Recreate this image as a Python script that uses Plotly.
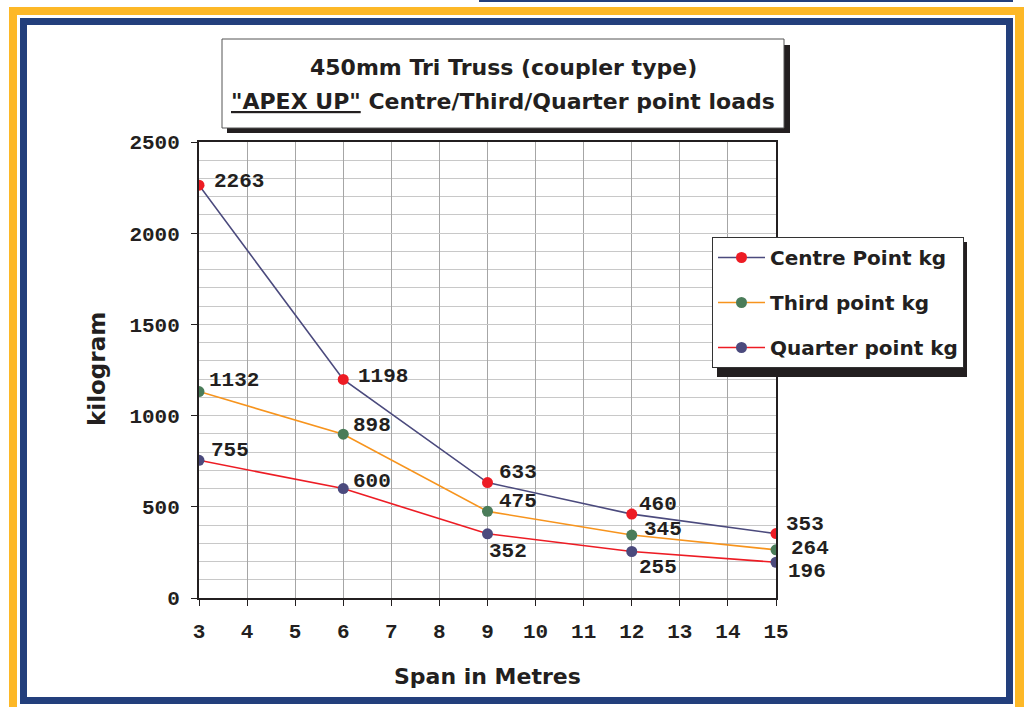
import plotly.graph_objects as go

# ---------------- data ----------------
span_m = [3, 6, 9, 12, 15]
centre_kg = [2263, 1198, 633, 460, 353]
third_kg = [1132, 898, 475, 345, 264]
quarter_kg = [755, 600, 352, 255, 196]
series_names = ["Centre Point kg", "Third point kg", "Quarter point kg"]
x_ticks = list(range(3, 16))
y_ticks = [0, 500, 1000, 1500, 2000, 2500]

# ---------------- styling ----------------
OFF = 0  # page body margin removed via post_script
W, H = 1024 - OFF, 707 - OFF
ML, MT = 199 - OFF, 142 - OFF
PW, PH = 577, 456
MR, MB = W - ML - PW, H - MT - PH

def px(x):
    return (x - OFF - ML) / PW

def py(y):
    return (MT + PH - (y - OFF)) / PH

NAVY_LINE = "#4B4A7D"
RED = "#ED1C24"
ORANGE = "#F7941D"
GREEN = "#4A7C59"
FRAME_NAVY = "#233F7C"
FRAME_YELLOW = "#FDB827"
TXT = "#231F20"
NUM_FONT = "Liberation Mono"
SANS = "DejaVu Sans"

styles = [
    dict(line=NAVY_LINE, marker=RED),
    dict(line=ORANGE, marker=GREEN),
    dict(line=RED, marker=NAVY_LINE),
]
# label offsets (xshift, yshift) in pixels
label_offsets = [
    [(13, 4), (13, 3), (9, 10), (5, 10), (8, 9)],
    [(8, 11), (8, 9), (9, 10), (10, 6), (13, 1)],
    [(10, 10), (8, 7), (-1, -18), (5, -16), (10, -9)],
]

fig = go.Figure()
all_series = [centre_kg, third_kg, quarter_kg]
for i, (name, vals, st) in enumerate(zip(series_names, all_series, styles)):
    fig.add_trace(go.Scatter(
        x=span_m, y=vals, name=name, mode="lines+markers",
        line=dict(color=st["line"], width=1.6),
        marker=dict(color=st["marker"], size=11),
        legendgroup=f"g{i}",
    ))

annotations = []
for vals, offs in zip(all_series, label_offsets):
    for xv, yv, (dx, dy) in zip(span_m, vals, offs):
        annotations.append(dict(
            x=xv, y=yv, xref="x", yref="y", text=str(yv), showarrow=False,
            xanchor="left", yanchor="middle", xshift=dx, yshift=dy,
            font=dict(family=NUM_FONT, size=21, color=TXT, weight="bold"),
        ))

# title text
annotations.append(dict(
    x=px(503), y=py(67), xref="paper", yref="paper", showarrow=False,
    text="450mm Tri Truss (coupler type)", xanchor="center", yanchor="middle",
    font=dict(family=SANS, size=22, color=TXT, weight="bold"),
))
annotations.append(dict(
    x=px(503), y=py(101), xref="paper", yref="paper", showarrow=False,
    text='<u>"APEX UP"</u> Centre/Third/Quarter point loads', xanchor="center", yanchor="middle",
    font=dict(family=SANS, size=22, color=TXT, weight="bold"),
))
# axis titles
annotations.append(dict(
    x=px(487), y=py(676), xref="paper", yref="paper", showarrow=False,
    text="Span in Metres", xanchor="center", yanchor="middle",
    font=dict(family=SANS, size=22, color=TXT, weight="bold"),
))
annotations.append(dict(
    x=px(97), y=py(369), xref="paper", yref="paper", showarrow=False,
    text="kilogram", xanchor="center", yanchor="middle", textangle=-90,
    font=dict(family=SANS, size=23, color=TXT, weight="bold"),
))

def rect(x0, y0, x1, y1, fill, line_color=None, line_width=0, layer="below"):
    return dict(
        type="rect", xref="paper", yref="paper",
        x0=px(x0), x1=px(x1), y0=py(y0), y1=py(y1),
        fillcolor=fill, layer=layer,
        line=dict(color=line_color or fill, width=line_width),
    )

shapes = [
    rect(9, 7, 1040, 730, FRAME_YELLOW),
    rect(17, 15, 1015, 730, "#FFFFFF"),
    rect(20, 18, 1013, 704, FRAME_NAVY),
    rect(27, 25, 1006, 697, "#FFFFFF"),
    rect(479, -5, 1013, 2, FRAME_NAVY),
    # title box with shadow
    rect(227, 45, 790, 133, TXT),
    rect(222, 39, 784, 128, "#FFFFFF", "#555555", 1),
    # legend shadow
    rect(717, 242, 967, 377, TXT, layer="above"),
]

fig.update_layout(
    width=W, height=H,
    margin=dict(l=ML, r=MR, t=MT, b=MB),
    paper_bgcolor="#FFFFFF", plot_bgcolor="#FFFFFF",
    showlegend=True,
    legend=dict(
        x=px(712), y=py(237), xanchor="left", yanchor="top",
        bgcolor="#FFFFFF", bordercolor="#333333", borderwidth=1,
        font=dict(family=SANS, size=20, color=TXT, weight="bold"),
        tracegroupgap=16, traceorder="grouped", itemwidth=47,
    ),
    annotations=annotations,
    shapes=shapes,
    xaxis=dict(
        range=[3, 15], tickvals=x_ticks, ticktext=[str(t) for t in x_ticks],
        showgrid=True, gridcolor="#A6A6A6", gridwidth=1,
        showline=True, linecolor="#231F20", linewidth=2, mirror=True,
        ticks="outside", ticklen=6, tickcolor="#231F20", tickwidth=1,
        ticklabelstandoff=7,
        tickfont=dict(family=NUM_FONT, size=21, color=TXT, weight="bold"),
        zeroline=False,
    ),
    yaxis=dict(
        range=[0, 2500], tickvals=y_ticks, ticktext=[str(t) for t in y_ticks],
        showgrid=True, gridcolor="#C8C8C8", gridwidth=1,
        minor=dict(dtick=100, showgrid=True, gridcolor="#C8C8C8", gridwidth=1),
        showline=True, linecolor="#231F20", linewidth=2, mirror=True,
        ticks="outside", ticklen=6, tickcolor="#231F20", tickwidth=1,
        ticklabelstandoff=7,
        tickfont=dict(family=NUM_FONT, size=21, color=TXT, weight="bold"),
        zeroline=False,
    ),
)

fig.write_html(
    "out.html",
    config={"displayModeBar": False},
    post_script="document.body.style.margin='0';document.body.style.overflow='hidden';",
)
